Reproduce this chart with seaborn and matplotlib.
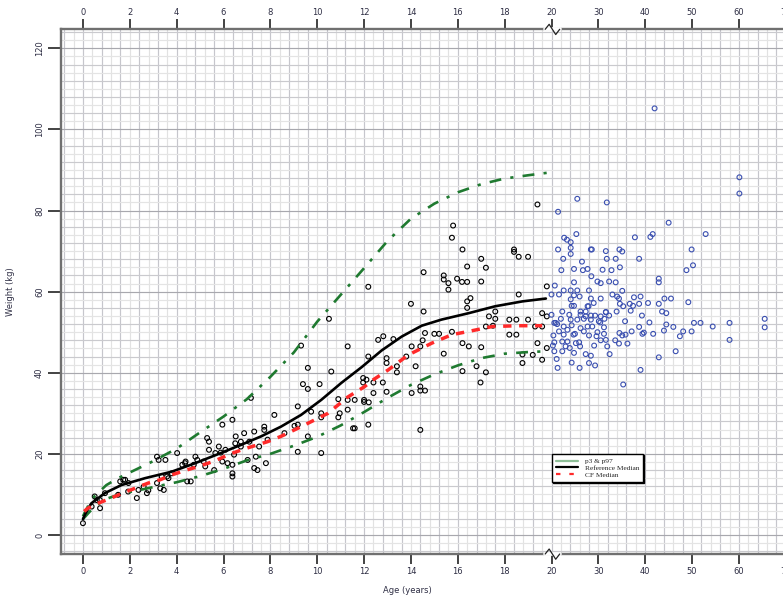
import numpy as np
import pandas as pd
import seaborn as sns
import matplotlib.pyplot as plt
import matplotlib.transforms as mtransforms
from matplotlib.lines import Line2D

# reference percentiles (age in years, weight in kg)
p3_age = [0.0, 0.25, 0.5, 1.0, 1.5, 2.0, 2.6, 3.0, 4.0, 5.0, 6.0, 7.0, 8.0, 9.0, 10.0, 11.0, 12.0,
          13.0, 14.0, 15.0, 16.0, 17.0, 18.0, 19.0, 19.8]
p3_wt = [3.9, 5.5, 7.0, 8.9, 9.9, 10.6, 11.3, 11.8, 13.0, 14.5, 16.3, 18.4, 20.0, 22.0, 24.2, 27.0, 30.3,
         33.8, 37.0, 39.6, 41.8, 43.6, 44.7, 45.1, 45.3]
p97_age = [0.0, 0.25, 0.5, 1.0, 1.5, 2.0, 3.0, 4.0, 5.0, 6.0, 7.0, 8.0, 9.0, 10.0, 11.0, 12.0,
           13.0, 14.0, 15.0, 16.0, 17.0, 18.0, 19.0, 19.8]
p97_wt = [4.6, 7.5, 9.6, 12.3, 14.0, 15.4, 18.2, 21.3, 25.3, 29.2, 33.5, 39.0, 45.0, 52.6, 59.2, 65.8,
          72.5, 78.0, 81.7, 84.5, 86.5, 87.9, 88.7, 89.3]
ref_age = [0.0, 0.1, 0.36, 0.93, 1.64, 2.65, 3.79, 4.79, 5.8, 6.74, 7.6, 8.45, 9.31, 10.17, 11.03,
           11.9, 12.75, 13.6, 14.46, 15.3, 16.47, 17.6, 18.76, 19.76]
ref_wt = [3.9, 5.2, 7.8, 10.3, 12.3, 14.0, 15.6, 17.7, 20.0, 22.2, 24.3, 26.7, 29.6, 33.3, 37.5,
          41.4, 45.5, 48.9, 51.6, 53.1, 54.7, 56.4, 57.6, 58.3]
cf_age = [0.05, 0.21, 0.64, 1.21, 1.72, 2.22, 2.79, 3.29, 3.79, 4.36, 4.94, 5.6, 6.3, 6.88, 7.88, 8.45,
          9.31, 10.46, 11.3, 12.0, 12.4, 13.03, 13.89, 14.89, 15.75, 16.47, 17.47, 18.6, 19.6]
cf_wt = [5.8, 6.6, 7.8, 9.1, 10.4, 11.5, 12.8, 13.6, 14.8, 15.9, 16.9, 18.2, 20.0, 21.2, 23.0, 24.3,
         26.7, 30.0, 34.0, 36.5, 38.3, 40.7, 44.4, 47.3, 49.4, 50.2, 51.4, 51.6, 51.6]

# children (age < 20)
child_age = [0.0, 0.37, 0.73, 0.59, 0.5, 0.72, 0.94, 1.59, 1.8, 1.94, 1.72, 1.5, 1.93, 2.3, 2.37, 2.59,
             2.73, 2.79, 3.16, 3.23, 3.16, 3.3, 3.45, 3.52, 3.59, 3.36, 3.65, 3.79, 4.02, 4.24, 4.45,
             4.6, 4.38, 4.73, 4.88, 4.8, 4.36, 5.15, 5.22, 5.3, 5.38, 5.38, 5.6, 5.8, 5.95, 5.95, 5.88,
             5.65, 6.08, 6.17, 6.38, 6.38, 6.38, 6.38, 6.45, 6.52, 6.5, 6.74, 6.74, 6.88, 7.03, 7.1,
             7.17, 7.31, 7.31, 7.38, 7.45, 7.52, 7.74, 7.74, 7.81, 7.88, 8.17, 8.6, 9.03, 9.17, 9.17,
             9.17, 9.31, 9.39, 9.6, 9.6, 9.6, 9.74, 10.1, 10.17, 10.17, 10.17, 10.5, 10.6, 10.9, 10.96,
             10.9, 11.3, 11.3, 11.3, 11.53, 11.6, 11.6, 11.96, 11.96, 12.0, 12.0, 12.1, 12.18, 12.18,
             12.18, 12.2, 12.4, 12.4, 12.6, 12.8, 12.82, 12.96, 12.96, 12.96, 13.25, 13.4, 13.4, 13.8,
             14.0, 14.03, 14.03, 14.2, 14.4, 14.4, 14.4, 14.4, 14.5, 14.54, 14.54, 14.6, 14.6, 15.0,
             15.2, 15.4, 15.4, 15.4, 15.6, 15.6, 15.75, 15.75, 15.8, 15.97, 16.18, 16.2, 16.2, 16.2,
             16.4, 16.4, 16.4, 16.4, 16.47, 16.54, 16.8, 16.97, 17.0, 17.0, 17.0, 17.2, 17.2, 17.2,
             17.33, 17.5, 17.6, 17.6, 18.2, 18.2, 18.4, 18.4, 18.5, 18.5, 18.6, 18.6, 18.76, 18.76,
             19.0, 19.0, 19.2, 19.3, 19.4, 19.4, 19.6, 19.6, 19.6, 19.8, 19.8, 19.8]
child_wt = [2.9, 7.0, 6.6, 8.6, 9.5, 8.6, 10.3, 13.2, 13.6, 12.8, 13.6, 9.9, 10.7, 9.1, 11.1, 11.9,
            10.3, 11.0, 19.3, 18.5, 12.8, 11.5, 11.1, 18.5, 14.4, 14.4, 14.0, 15.2, 20.2, 17.3, 13.2,
            13.2, 18.1, 17.3, 18.5, 19.3, 17.7, 18.1, 16.9, 23.9, 23.0, 21.0, 16.0, 21.8, 18.1, 27.2, 20.3,
            20.2, 21.0, 17.7, 28.4, 15.2, 14.4, 17.3, 19.8, 24.3, 22.6, 23.0, 21.8, 25.1, 18.5, 23.0,
            33.8, 25.5, 16.5, 19.3, 16.0, 21.8, 26.7, 25.9, 17.7, 23.5, 29.6, 25.1, 26.9, 31.7, 27.2,
            20.5, 46.7, 37.2, 36.0, 41.2, 24.3, 30.4, 37.2, 30.0, 20.2, 29.0, 53.3, 40.3, 33.5, 30.0,
            29.0, 46.5, 33.3, 30.9, 26.3, 33.3, 26.3, 38.7, 37.6, 32.8, 33.3, 38.3, 27.2, 61.2,
            44.0, 32.7, 37.6, 35.0, 48.1, 37.6, 49.0, 43.6, 42.4, 35.3, 48.3, 41.6, 40.1, 44.0,
            57.0, 46.5, 35.0, 41.6, 46.5, 36.6, 35.6, 25.9, 48.0, 64.8, 55.1, 49.8, 35.6, 49.6,
            49.6, 64.0, 63.0, 44.7, 62.1, 60.5, 73.3, 50.1, 76.3, 63.2, 62.4, 70.4, 47.3, 40.4,
            62.4, 66.2, 57.6, 56.0, 46.5, 58.4, 41.6, 37.6, 68.1, 62.5, 46.3, 65.9, 51.4, 40.1,
            53.9, 51.6, 55.1, 53.3, 53.1, 49.4, 70.4, 69.8, 53.1, 49.4, 68.6, 59.3, 42.4, 44.5,
            68.6, 53.1, 44.4, 51.4, 81.5, 47.3, 54.7, 51.4, 43.2, 53.9, 61.3, 46.1]

# adults (age >= 20)
adult_age = [25.5, 31.8, 60.1, 60.1, 42.0, 21.4, 45.0, 25.3, 52.9, 22.7, 23.3, 24.1, 37.8, 41.1, 41.6,
             21.4, 24.1, 24.1, 28.4, 28.6, 31.6, 34.5, 35.1, 49.9, 22.5, 26.5, 31.8, 33.7, 38.7, 50.2,
             22.1, 24.8, 26.7, 27.7, 30.9, 32.8, 34.6, 48.8, 28.5, 20.7, 24.8, 29.8, 30.5, 32.3, 33.7,
             42.9, 42.9, 22.6, 24.1, 25.5, 28.0, 35.1, 20.0, 21.6, 24.8, 26.0, 33.0, 34.0, 37.6, 39.0,
             44.1, 45.5, 24.1, 28.4, 30.5, 34.4, 24.3, 24.8, 27.7, 27.9, 29.0, 34.6, 35.3, 36.7, 37.4,
             38.7, 40.6, 42.9, 49.2, 22.3, 26.2, 27.3, 31.6, 33.9, 36.9, 43.6, 44.5, 20.0, 23.8, 26.2,
             27.3, 28.4, 29.3, 30.5, 31.6, 32.3, 39.3, 22.0, 24.1, 25.5, 26.9, 28.4, 30.1, 31.3, 35.7,
             40.9, 65.5, 20.6, 20.9, 21.2, 50.4, 51.8, 58.0, 22.6, 24.3, 26.2, 27.7, 28.7, 30.4, 31.2,
             38.7, 44.5, 46.0, 54.4, 65.5, 21.6, 23.4, 25.0, 26.9, 29.8, 31.2, 37.1, 39.7, 44.0, 48.1,
             49.9, 20.4, 22.6, 24.7, 28.0, 29.6, 34.5, 35.1, 35.8, 39.4, 41.7, 47.4, 20.6, 22.3, 23.4,
             25.2, 25.9, 30.5, 31.6, 33.6, 34.4, 36.2, 58.0, 20.3, 23.0, 23.9, 26.1, 29.1, 31.9, 20.6,
             22.3, 24.8, 27.3, 28.4, 32.4, 46.5, 21.1, 42.9, 24.3, 28.0, 29.3, 21.3, 26.0, 39.0, 35.3,
             70.5]
adult_wt = [82.9, 82.0, 84.2, 88.2, 105.2, 79.7, 77.0, 74.2, 74.2, 73.3, 72.8, 72.2, 73.4, 73.5, 74.2,
            70.4, 70.8, 69.3, 70.4, 70.4, 70.0, 70.4, 69.9, 70.4, 68.1, 67.4, 68.1, 68.1, 68.1, 66.5,
            65.3, 65.6, 65.3, 65.6, 65.4, 65.3, 66.0, 65.3, 63.8, 61.5, 62.3, 62.5, 62.1, 62.5, 62.3,
            63.2, 62.3, 60.3, 60.3, 60.3, 60.3, 60.2, 59.3, 59.3, 59.1, 58.8, 59.3, 58.8, 58.6, 58.8,
            58.3, 58.3, 58.1, 58.3, 58.3, 58.3, 56.5, 56.5, 56.4, 56.4, 57.2, 57.0, 56.4, 57.0, 56.5,
            57.0, 57.2, 57.0, 57.4, 55.1, 55.1, 55.1, 55.0, 55.1, 55.3, 55.1, 54.7, 54.3, 54.3, 54.3,
            53.9, 54.1, 54.1, 53.9, 54.9, 54.1, 54.1, 53.3, 53.1, 53.1, 53.3, 53.1, 52.7, 53.3, 52.7,
            52.4, 53.3, 52.3, 52.3, 52.0, 52.3, 52.3, 52.3, 51.4, 51.7, 51.0, 51.4, 51.4, 52.4, 51.2,
            51.3, 51.9, 51.3, 51.4, 51.2, 50.2, 50.6, 49.6, 50.2, 50.0, 49.6, 50.2, 49.9, 50.4, 50.2,
            50.2, 49.2, 49.4, 49.4, 49.2, 49.0, 49.8, 49.2, 49.4, 49.6, 49.6, 49.0, 47.5, 47.7, 47.7,
            47.3, 47.5, 48.0, 48.1, 48.0, 47.2, 47.2, 48.1, 46.7, 46.5, 46.1, 46.5, 46.7, 46.5, 45.3,
            45.3, 44.9, 44.6, 44.2, 44.6, 45.3, 43.4, 43.8, 42.5, 42.4, 41.8, 41.2, 41.2, 40.7, 37.1,
            47.4]

x_ticks_years = [0, 2, 4, 6, 8, 10, 12, 14, 16, 18, 20, 30, 40, 50, 60, 70]
y_ticks = [0, 20, 40, 60, 80, 100, 120]


def squeeze(age):
    # ages past 20 are drawn on a 5x compressed scale
    age = np.asarray(age, dtype=float)
    return np.where(age <= 20, age, 20 + (age - 20) / 5)


green = "#1f7a30"
blue = "#3a4fb0"
txt = "#2e2e44"
dashdot = (0, (4.5, 3.5, 1.2, 3.5))

sns.set_theme(style="white")
plt.rcParams['font.family'] = ['DejaVu Sans']

fig = plt.figure(figsize=(7.83, 5.97), dpi=100)
ax = fig.add_axes([60.7 / 783, 43 / 597, 0.935, 524.7 / 597])
ax.set_xlim(-0.95, 30.3)
ax.set_ylim(-4.7, 124.7)

# graph paper grid
for i, gx in enumerate(np.arange(-0.8, 30.5, 0.4)):
    c = "#c6c6cc" if i % 2 == 0 else "#e2e2e2"
    ax.axvline(gx, color=c, lw=0.85, zorder=0)
for gy in range(-4, 125, 2):
    if gy % 20 == 0:
        c = "#a8a8ae"
    elif gy % 4 == 0:
        c = "#cacace"
    else:
        c = "#e4e4e4"
    ax.axhline(gy, color=c, lw=0.85, zorder=0)

kids = pd.DataFrame({"x": squeeze(child_age), "w": child_wt})
adults = pd.DataFrame({"x": squeeze(adult_age), "w": adult_wt})
sns.scatterplot(data=kids, x="x", y="w", ax=ax, marker="o", s=12, facecolors="none",
                edgecolor="black", linewidth=0.8, zorder=3)
sns.scatterplot(data=adults, x="x", y="w", ax=ax, marker="o", s=12, facecolors="none",
                edgecolor=blue, linewidth=0.8, zorder=3)

sns.lineplot(x=squeeze(p3_age), y=p3_wt, ax=ax, color=green, lw=1.9, sort=False, estimator=None,
             zorder=4).lines[-1].set_linestyle(dashdot)
sns.lineplot(x=squeeze(p97_age), y=p97_wt, ax=ax, color=green, lw=1.9, sort=False, estimator=None,
             zorder=4).lines[-1].set_linestyle(dashdot)
sns.lineplot(x=squeeze(ref_age), y=ref_wt, ax=ax, color="black", lw=1.9, sort=False, estimator=None,
             zorder=5)
sns.lineplot(x=squeeze(cf_age), y=cf_wt, ax=ax, color="#ff2a2a", lw=2.5, sort=False, estimator=None,
             zorder=5).lines[-1].set_linestyle((0, (2.4, 2.2)))

# ticks top and bottom
ax.set_xticks(squeeze(x_ticks_years))
ax.set_xticklabels([str(t) for t in x_ticks_years])
ax.set_yticks(y_ticks)
ax.set_yticklabels([str(t) for t in y_ticks], rotation=90, va="center")
ax.tick_params(axis="x", which="both", bottom=True, top=True, labelbottom=True, labeltop=True,
               length=7, width=1.2, color="#222222", direction="out", labelsize=6, labelcolor=txt, pad=2)
ax.tick_params(axis="y", left=True, length=9.5, width=1.2, color="#222222", direction="out",
               labelsize=6, labelcolor=txt, pad=2.5)

for side in ["left", "bottom", "top"]:
    ax.spines[side].set_color("#707070")
    ax.spines[side].set_linewidth(1.7)
ax.spines["right"].set_visible(False)

ax.set_xlabel("Age (years)", fontsize=6, color=txt)
ax.set_ylabel("Weight (kg)", fontsize=6, color=txt)
ax.xaxis.set_label_coords(0.473, -0.061)
ax.yaxis.set_label_coords(-0.063, 0.5)

# axis break marks at age 20
trans = mtransforms.blended_transform_factory(ax.transData, ax.transAxes)
zx = [19.73, 19.9, 20.18, 20.35]
for yb in [0.0, 1.0]:
    ax.plot([19.72, 20.36], [yb, yb], transform=trans, color="white", lw=2.6, clip_on=False, zorder=6)
    ax.plot(zx, [yb, yb + 0.0095, yb - 0.0100, yb], transform=trans, color="#222222", lw=0.9,
            clip_on=False, zorder=7)

# legend
handles = [Line2D([], [], color="#8fbf98", lw=1.6),
           Line2D([], [], color="black", lw=1.6),
           Line2D([], [], color="#ff2a2a", lw=1.6, linestyle=(0, (2, 4)))]
leg = ax.legend(handles, ["p3 & p97", "Reference Median", "CF Median"], loc="upper left",
                bbox_to_anchor=(0.671, 0.19), borderaxespad=0, fancybox=False, frameon=True,
                prop={"family": "Liberation Serif", "size": 5.3}, handlelength=3.0, handletextpad=1.0,
                labelspacing=0.1, borderpad=0.5,
                shadow={"color": "black", "alpha": 1.0, "ox": 0.7, "oy": -0.7})
leg.get_frame().set_edgecolor("black")
leg.get_frame().set_linewidth(1.0)
leg.set_zorder(10)

fig.savefig("out.png", dpi=100)
